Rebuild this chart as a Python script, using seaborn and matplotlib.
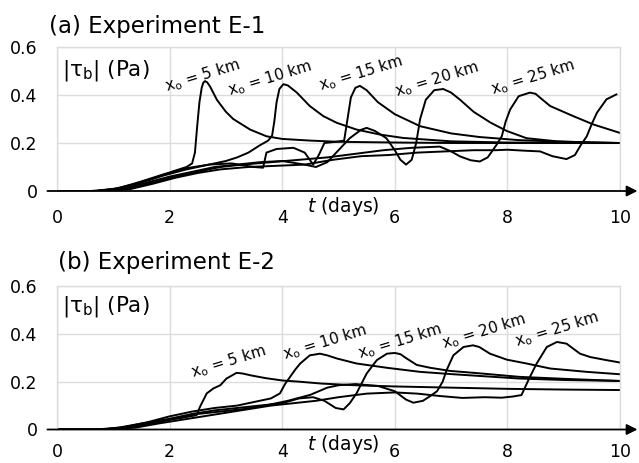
import matplotlib
matplotlib.use("Agg")
import matplotlib.pyplot as plt
import seaborn as sns
import pandas as pd

# ---------------- data ----------------
# Panel (a) Experiment E-1 : |tau_b| (Pa) vs t (days)
a_x5_t = [0, 0.6, 1.0, 1.4, 1.8, 2.1, 2.3, 2.4, 2.45, 2.49, 2.53, 2.57, 2.6, 2.63, 2.67, 2.72, 2.84, 3.0, 3.13, 3.43, 3.72, 4.0, 4.5, 5.0, 6.0, 7.0, 8.0, 10.0]
a_x5_v = [0, 0, 0.008, 0.03, 0.06, 0.085, 0.1, 0.115, 0.16, 0.27, 0.37, 0.43, 0.452, 0.458, 0.452, 0.435, 0.38, 0.33, 0.30, 0.256, 0.228, 0.217, 0.21, 0.205, 0.202, 0.2, 0.2, 0.2]

a_x10_t = [0, 0.7, 1.1, 1.5, 1.9, 2.3, 2.7, 3.0, 3.2, 3.4, 3.6, 3.75, 3.82, 3.86, 3.9, 3.95, 4.02, 4.1, 4.26, 4.49, 4.73, 4.97, 5.32, 5.74, 6.15, 7.0, 8.0, 10.0]
a_x10_v = [0, 0, 0.01, 0.035, 0.065, 0.09, 0.11, 0.125, 0.14, 0.16, 0.19, 0.21, 0.23, 0.29, 0.37, 0.425, 0.445, 0.44, 0.41, 0.354, 0.312, 0.284, 0.256, 0.235, 0.221, 0.207, 0.202, 0.2]

a_x15_t = [0, 0.7, 1.1, 1.5, 1.9, 2.3, 2.7, 3.1, 3.5, 3.66, 3.72, 3.9, 4.2, 4.4, 4.55, 4.65, 4.75, 4.95, 5.1, 5.16, 5.22, 5.3, 5.38, 5.5, 5.7, 6.0, 6.45, 7.0, 7.5, 8.2, 9.0, 10.0]
a_x15_v = [0, 0, 0.012, 0.04, 0.07, 0.095, 0.11, 0.115, 0.1, 0.097, 0.16, 0.175, 0.18, 0.16, 0.11, 0.15, 0.2, 0.205, 0.21, 0.3, 0.39, 0.43, 0.438, 0.42, 0.37, 0.32, 0.27, 0.24, 0.225, 0.212, 0.205, 0.2]

a_x20_t = [0, 0.8, 1.2, 1.6, 2.0, 2.4, 2.8, 3.2, 3.6, 4.0, 4.4, 4.6, 4.8, 5.0, 5.2, 5.4, 5.5, 5.65, 5.85, 6.0, 6.1, 6.2, 6.3, 6.38, 6.45, 6.55, 6.7, 6.86, 7.0, 7.16, 7.4, 7.7, 7.99, 8.34, 8.88, 9.5, 10.0]
a_x20_v = [0, 0, 0.01, 0.035, 0.06, 0.08, 0.1, 0.11, 0.12, 0.125, 0.11, 0.1, 0.12, 0.17, 0.22, 0.255, 0.263, 0.25, 0.22, 0.17, 0.13, 0.11, 0.13, 0.2, 0.3, 0.38, 0.42, 0.425, 0.41, 0.38, 0.33, 0.285, 0.25, 0.22, 0.207, 0.202, 0.2]

a_x25_t = [0, 0.8, 1.3, 1.7, 2.1, 2.5, 2.9, 3.3, 3.8, 4.3, 4.8, 5.3, 5.8, 6.3, 6.8, 7.0, 7.16, 7.35, 7.51, 7.65, 7.8, 7.9, 7.97, 8.05, 8.2, 8.4, 8.5, 8.6, 8.76, 9.17, 9.53, 10.0]
a_x25_v = [0, 0, 0.01, 0.035, 0.06, 0.08, 0.1, 0.11, 0.12, 0.13, 0.14, 0.155, 0.17, 0.18, 0.185, 0.165, 0.144, 0.128, 0.123, 0.14, 0.19, 0.228, 0.29, 0.34, 0.395, 0.41, 0.405, 0.385, 0.354, 0.312, 0.277, 0.242]

a_x30_t = [0, 0.8, 1.3, 1.7, 2.1, 2.5, 2.9, 3.4, 3.9, 4.4, 4.9, 5.4, 5.9, 6.4, 6.9, 7.4, 7.8, 8.0, 8.3, 8.58, 8.8, 9.05, 9.2, 9.3, 9.41, 9.5, 9.59, 9.76, 9.94]
a_x30_v = [0, 0, 0.008, 0.03, 0.055, 0.075, 0.09, 0.1, 0.105, 0.11, 0.13, 0.145, 0.15, 0.16, 0.165, 0.17, 0.17, 0.172, 0.168, 0.165, 0.145, 0.133, 0.15, 0.19, 0.228, 0.28, 0.326, 0.382, 0.403]

# Panel (b) Experiment E-2
b_x5_t = [0, 0.7, 1.1, 1.5, 1.9, 2.18, 2.48, 2.54, 2.66, 2.78, 2.9, 3.01, 3.19, 3.3, 3.45, 3.7, 4.0, 4.3, 4.7, 5.3, 6.0, 7.0, 8.0, 9.0, 10.0]
b_x5_v = [0, 0, 0.008, 0.025, 0.04, 0.047, 0.06, 0.095, 0.151, 0.172, 0.185, 0.213, 0.237, 0.234, 0.226, 0.215, 0.205, 0.2, 0.192, 0.185, 0.18, 0.175, 0.17, 0.167, 0.165]

b_x10_t = [0, 0.8, 1.2, 1.6, 2.0, 2.4, 2.8, 3.2, 3.5, 3.8, 3.96, 4.05, 4.14, 4.23, 4.32, 4.49, 4.67, 4.8, 4.97, 5.32, 5.86, 6.45, 7.04, 8.22, 9.0, 10.0]
b_x10_v = [0, 0, 0.01, 0.03, 0.055, 0.075, 0.09, 0.1, 0.115, 0.13, 0.151, 0.19, 0.22, 0.25, 0.276, 0.31, 0.317, 0.31, 0.297, 0.276, 0.258, 0.241, 0.231, 0.213, 0.207, 0.203]

b_x15_t = [0, 0.8, 1.2, 1.6, 2.0, 2.4, 2.8, 3.2, 3.6, 4.0, 4.3, 4.55, 4.75, 4.95, 5.09, 5.2, 5.32, 5.5, 5.68, 5.86, 6.0, 6.1, 6.21, 6.39, 6.63, 6.98, 7.5, 8.22, 9.0, 10.0]
b_x15_v = [0, 0, 0.008, 0.025, 0.045, 0.065, 0.08, 0.09, 0.1, 0.11, 0.13, 0.135, 0.12, 0.09, 0.084, 0.11, 0.151, 0.234, 0.29, 0.317, 0.32, 0.315, 0.297, 0.27, 0.258, 0.245, 0.235, 0.22, 0.212, 0.203]

b_x20_t = [0, 0.8, 1.3, 1.7, 2.1, 2.5, 2.9, 3.3, 3.7, 4.1, 4.5, 4.8, 5.0, 5.3, 5.7, 6.0, 6.2, 6.33, 6.5, 6.63, 6.75, 6.85, 6.92, 7.04, 7.22, 7.39, 7.5, 7.69, 7.99, 8.34, 8.76, 9.41, 10.0]
b_x20_v = [0, 0, 0.008, 0.025, 0.045, 0.065, 0.075, 0.085, 0.1, 0.12, 0.145, 0.175, 0.185, 0.19, 0.182, 0.16, 0.125, 0.112, 0.12, 0.14, 0.16, 0.2, 0.248, 0.31, 0.345, 0.352, 0.345, 0.317, 0.292, 0.276, 0.255, 0.241, 0.231]

b_x25_t = [0, 0.9, 1.4, 1.8, 2.2, 2.6, 3.0, 3.4, 3.8, 4.2, 4.6, 5.0, 5.5, 6.0, 6.4, 6.8, 7.2, 7.6, 7.9, 8.1, 8.25, 8.4, 8.52, 8.7, 8.88, 9.05, 9.29, 9.47, 9.76, 10.0]
b_x25_v = [0, 0, 0.008, 0.025, 0.04, 0.055, 0.07, 0.085, 0.1, 0.11, 0.12, 0.135, 0.15, 0.155, 0.15, 0.14, 0.132, 0.135, 0.133, 0.138, 0.144, 0.22, 0.276, 0.345, 0.366, 0.359, 0.317, 0.303, 0.29, 0.28]

x_ticks = [0, 2, 4, 6, 8, 10]
y_ticks = [0, 0.2, 0.4, 0.6]
y_tick_labels = ["0", "0.2", "0.4", "0.6"]
label_km = ["5", "10", "15", "20", "25"]

panel_titles = ["(a) Experiment E-1", "(b) Experiment E-2"]

# ---------------- assemble ----------------
def build(curves):
    frames = []
    for name, (t, v) in curves.items():
        frames.append(pd.DataFrame({"t": t, "tau": v, "curve": name}))
    return pd.concat(frames, ignore_index=True)

df_a = build({"5": (a_x5_t, a_x5_v), "10": (a_x10_t, a_x10_v), "15": (a_x15_t, a_x15_v),
              "20": (a_x20_t, a_x20_v), "25": (a_x25_t, a_x25_v), "30": (a_x30_t, a_x30_v)})
df_b = build({"5": (b_x5_t, b_x5_v), "10": (b_x10_t, b_x10_v), "15": (b_x15_t, b_x15_v),
              "20": (b_x20_t, b_x20_v), "25": (b_x25_t, b_x25_v)})

sns.set_style("white")
plt.rcParams["font.family"] = ["DejaVu Sans"]
plt.rcParams["mathtext.fontset"] = "dejavusans"
plt.rcParams["text.color"] = "black"
plt.rcParams["xtick.color"] = "black"
plt.rcParams["ytick.color"] = "black"
plt.rcParams["xtick.labelcolor"] = "black"
plt.rcParams["ytick.labelcolor"] = "black"

fig = plt.figure(figsize=(6.39, 4.63), dpi=100)
W, H = 639, 463
ax1 = fig.add_axes([57 / W, 1 - 191 / H, 563 / W, 144 / H])
ax2 = fig.add_axes([57 / W, 1 - 429.5 / H, 563 / W, 143.5 / H])

# label placement (data coords) – layout only
lab_pos = {
    0: [(2.58, 0.48), (3.78, 0.47), (5.4, 0.49), (6.75, 0.467), (8.45, 0.475)],
    1: [(3.04, 0.285), (4.76, 0.365), (6.09, 0.369), (7.58, 0.41), (8.88, 0.419)],
}
title_pos = [(49, 26), (58, 263)]
ylab_y = [0.84, 0.86]
xpad = [13, 10]

grid_c = "#dcdcdc"
for i, (ax, df) in enumerate([(ax1, df_a), (ax2, df_b)]):
    sns.lineplot(data=df, x="t", y="tau", units="curve", estimator=None, sort=False,
                 color="black", lw=1.4, ax=ax, legend=False)
    ax.set_xlim(0, 10)
    ax.set_ylim(0, 0.6)
    ax.set_xticks(x_ticks)
    ax.set_xticklabels([str(v) for v in x_ticks])
    ax.set_yticks(y_ticks)
    ax.set_yticklabels(y_tick_labels)
    ax.tick_params(length=0, labelsize=12.5, colors="black")
    ax.tick_params(axis="y", pad=14)
    ax.tick_params(axis="x", pad=xpad[i])
    ax.set_xlabel("")
    ax.set_ylabel("")
    ax.grid(True, color=grid_c, lw=1)
    ax.set_axisbelow(True)
    for s in ["left", "top", "right"]:
        ax.spines[s].set_color(grid_c)
        ax.spines[s].set_linewidth(1)
    ax.spines["bottom"].set_visible(False)
    # x axis with arrow
    ax.annotate("", xy=(1.031, 0), xytext=(-0.017, 0), xycoords="axes fraction",
                textcoords="axes fraction",
                arrowprops=dict(arrowstyle="-|>", color="black", lw=1.3,
                                mutation_scale=16, shrinkA=0, shrinkB=0),
                annotation_clip=False)
    # axis titles
    ax.text(0.009, ylab_y[i], r"|τ$_\mathregular{b}$| (Pa)", transform=ax.transAxes,
            fontsize=15.5, va="center", ha="left", color="black")
    ax.annotate(r"$t$ (days)", xy=(5.08, 0), xycoords=("data", "axes fraction"),
                xytext=(0, -15), textcoords="offset pixels", ha="center", va="center",
                fontsize=13.5, annotation_clip=False, color="black")
    for k, (px, py) in zip(label_km, lab_pos[i]):
        ax.text(px, py, r"x$_\mathregular{o}$ = " + k + " km", fontsize=11, rotation=17,
                ha="center", va="center", rotation_mode="anchor", color="black")
    tx, ty = title_pos[i]
    fig.text(tx / W, 1 - ty / H, panel_titles[i], fontsize=16.5, ha="left", va="center",
             color="black")

fig.savefig("out.png", dpi=100)
